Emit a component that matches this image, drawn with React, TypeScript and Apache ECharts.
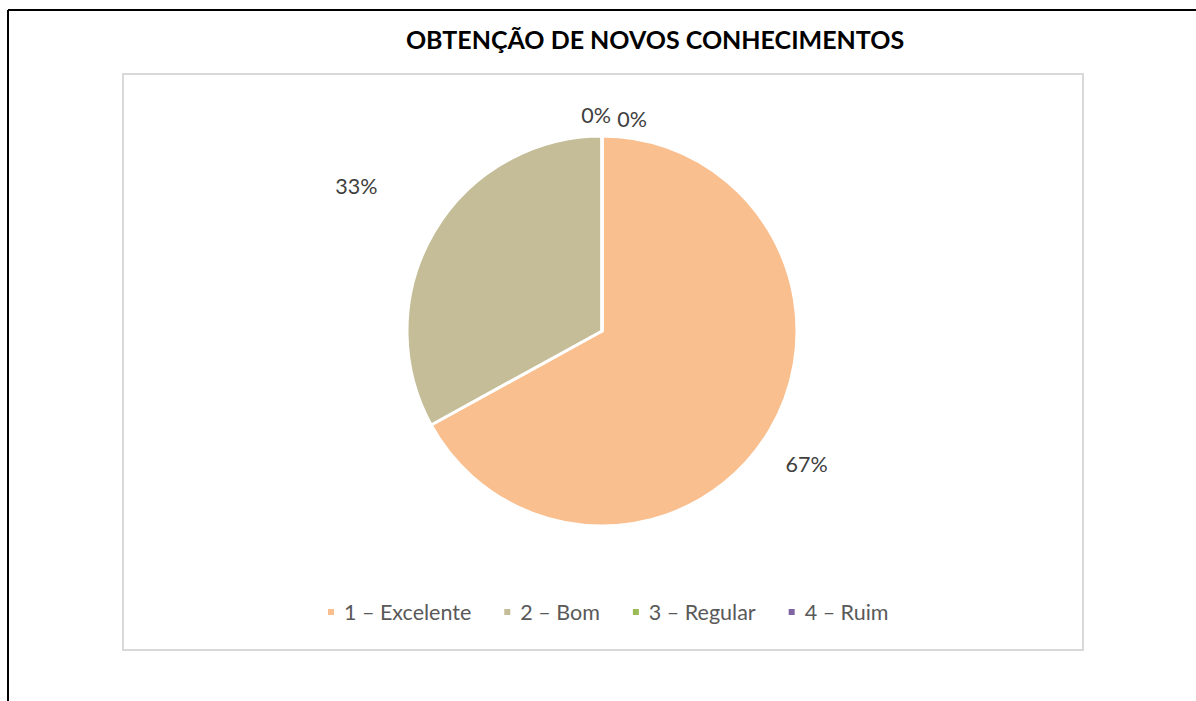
import React, { useEffect, useRef } from "react";
import * as echarts from "echarts";

const titleText = "OBTENÇÃO DE NOVOS CONHECIMENTOS";
const categories = ["1 – Excelente", "2 – Bom", "3 – Regular", "4 – Ruim"];
const values = [67, 33, 0, 0];
const colors = ["#F9BF8F", "#C4BD97", "#9BBB59", "#8064A2"];
const labelOffsets: number[][] = [[2, 29], [-43, -41], [14, -11], [50, -7]];

export default function App() {
  const ref = useRef<HTMLDivElement>(null);
  useEffect(() => {
    if (!ref.current) return;
    const chart = echarts.init(ref.current, null, { renderer: "svg" });
    const font = "Lato, 'Open Sans', sans-serif";
    chart.setOption({
      animation: false,
      backgroundColor: "#ffffff",
      title: {
        text: titleText,
        left: 650,
        top: 21,
        textAlign: "center",
        textStyle: { fontFamily: font, fontWeight: "bold", fontSize: 25, color: "#000000" },
      },
      legend: {
        data: categories,
        bottom: 73,
        left: 321,
        icon: "rect",
        itemWidth: 8,
        itemHeight: 8,
        itemGap: 31,
        textStyle: { fontFamily: font, fontSize: 21.5, color: "#595959", padding: [0, 0, 0, 4] },
      },
      graphic: [
        { type: "line", shape: { x1: 8, y1: 10, x2: 1196, y2: 10 }, style: { stroke: "#000", lineWidth: 2 } },
        { type: "line", shape: { x1: 8, y1: 10, x2: 8, y2: 701 }, style: { stroke: "#000", lineWidth: 2 } },
        { type: "rect", shape: { x: 123, y: 74, width: 960, height: 576 }, style: { fill: "none", stroke: "#d9d9d9", lineWidth: 2 } },
      ],
      series: [
        {
          type: "pie",
          center: [602, 331],
          radius: 195,
          startAngle: 90,
          clockwise: true,
          avoidLabelOverlap: false,
          stillShowZeroSum: true,
          itemStyle: { borderColor: "#ffffff", borderWidth: 3 },
          label: {
            show: true,
            position: "outside",
            formatter: "{d}%",
            fontFamily: font,
            fontSize: 21.5,
            color: "#404040",
          },
          labelLine: { show: false, length: 10, length2: 0 },
          data: categories.map((name, i) => ({
            name,
            value: values[i],
            itemStyle: { color: colors[i] },
            label: { offset: labelOffsets[i] },
          })),
        },
      ],
    });
    return () => chart.dispose();
  }, []);
  return <div ref={ref} style={{ position: "fixed", left: 0, top: 0, width: 1196, height: 701 }} />;
}
